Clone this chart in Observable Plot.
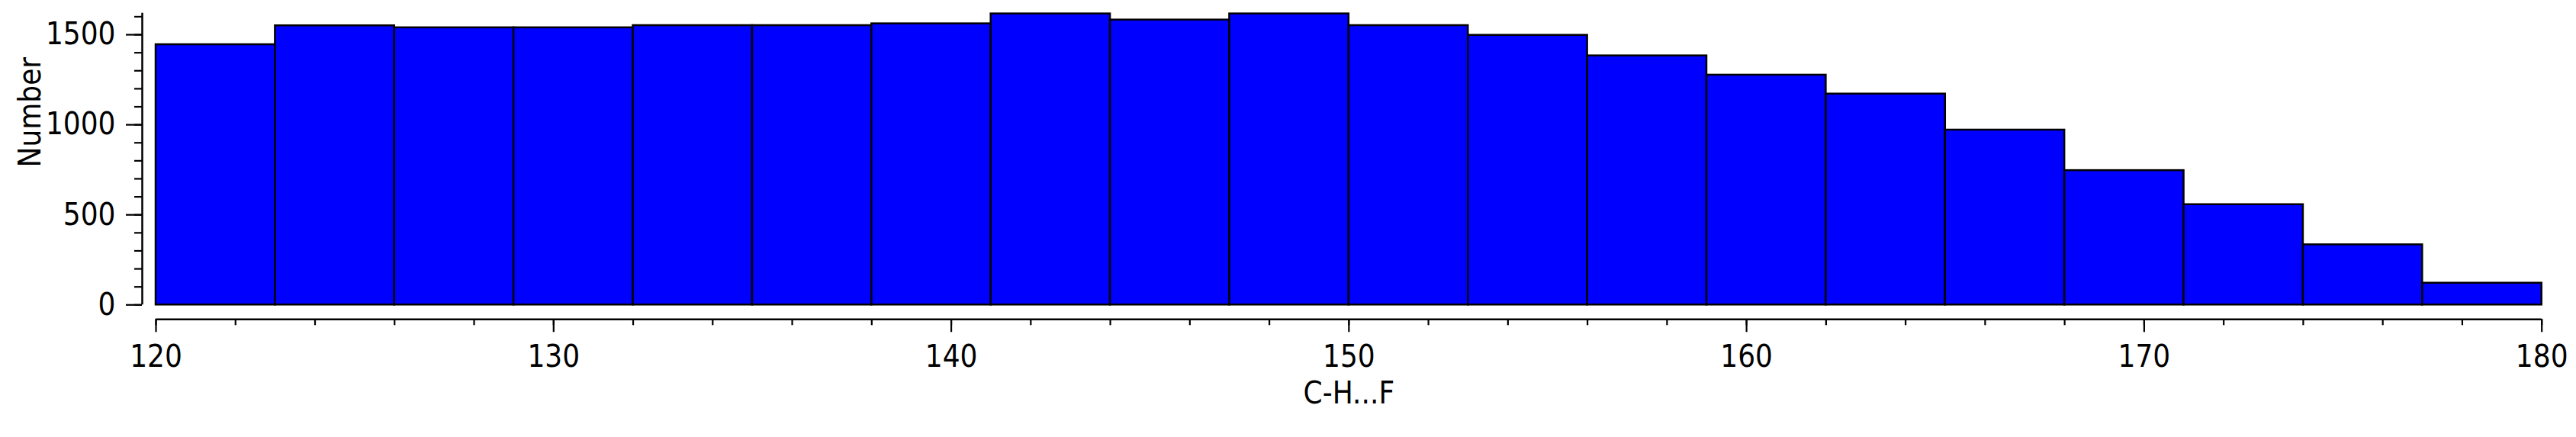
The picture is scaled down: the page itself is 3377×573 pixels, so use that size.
<!DOCTYPE html>
<html>
<head>
<meta charset="utf-8">
<script src="https://cdn.jsdelivr.net/npm/d3@7"></script>
<script src="https://cdn.jsdelivr.net/npm/@observablehq/plot@0.6"></script>
<style>
  html, body { margin: 0; padding: 0; background: #ffffff; }
  #chart { width: 3377px; height: 573px; }
</style>
</head>
<body>
<div id="chart"></div>
<script>
// ---- data ----
const binStarts = [120, 123, 126, 129, 132, 135, 138, 141, 144, 147, 150, 153, 156, 159, 162, 165, 168, 171, 174, 177];
const binWidth = 3;
const counts = [1445, 1550, 1539, 1539, 1551, 1551, 1561, 1616, 1582, 1616, 1551, 1497, 1383, 1276, 1171, 971, 746, 557, 334, 121];
const xTicks = [120, 130, 140, 150, 160, 170, 180];
const xMinorTicks = d3.range(120, 181, 2);
const yTicks = [0, 500, 1000, 1500];
const yMinorTicks = d3.range(0, 1601, 100);
const xLabel = "C-H...F";
const yLabel = "Number";

const bins = binStarts.map((s, i) => ({x1: s, x2: s + binWidth, count: counts[i]}));

const font = "'DejaVu Sans Condensed', 'Liberation Sans', Arial, sans-serif";
const plain = d => String(d);

const chart = Plot.plot({
  width: 3377,
  height: 573,
  marginLeft: 204,
  marginRight: 45.3,
  marginTop: 16.7,
  marginBottom: 173.7,
  x: {domain: [120, 180], label: null},
  y: {domain: [0, 1620], label: null},
  style: {fontFamily: font, fontSize: "40px", color: "black", background: "white", overflow: "visible"},
  marks: [
    Plot.rectY(bins, {x1: "x1", x2: "x2", y: "count", fill: "#0000ff", stroke: "black", strokeWidth: 2.5}),
    // y axis
    Plot.ruleX([120], {y1: 0, y2: 1620, dx: -18, stroke: "black", strokeWidth: 2.5}),
    Plot.axisY(yMinorTicks, {anchor: "left", tickSize: 10, dx: -18, strokeWidth: 2.2, fill: "none", label: null}),
    Plot.axisY(yTicks, {anchor: "left", tickSize: 21, tickPadding: 14, dx: -18, strokeWidth: 2.2, label: null, fill: "black", tickFormat: plain}),
    // x axis
    Plot.ruleY([0], {x1: 120, x2: 180, dy: 19, stroke: "black", strokeWidth: 2.5}),
    Plot.axisX(xMinorTicks, {anchor: "bottom", tickSize: 8, dy: 19, strokeWidth: 2.2, fill: "none", label: null}),
    Plot.axisX(xTicks, {anchor: "bottom", tickSize: 17, tickPadding: 17, dy: 19, strokeWidth: 2.2, label: null, fill: "black", tickFormat: plain}),
    // axis titles
    Plot.text([xLabel], {text: d => d, frameAnchor: "bottom", lineAnchor: "top", dy: 100.6, fill: "black"}),
    Plot.text([yLabel], {text: d => d, frameAnchor: "left", rotate: -90, lineAnchor: "middle", dx: -164, dy: 11, fill: "black"})
  ]
});

document.getElementById("chart").appendChild(chart);
</script>
</body>
</html>
